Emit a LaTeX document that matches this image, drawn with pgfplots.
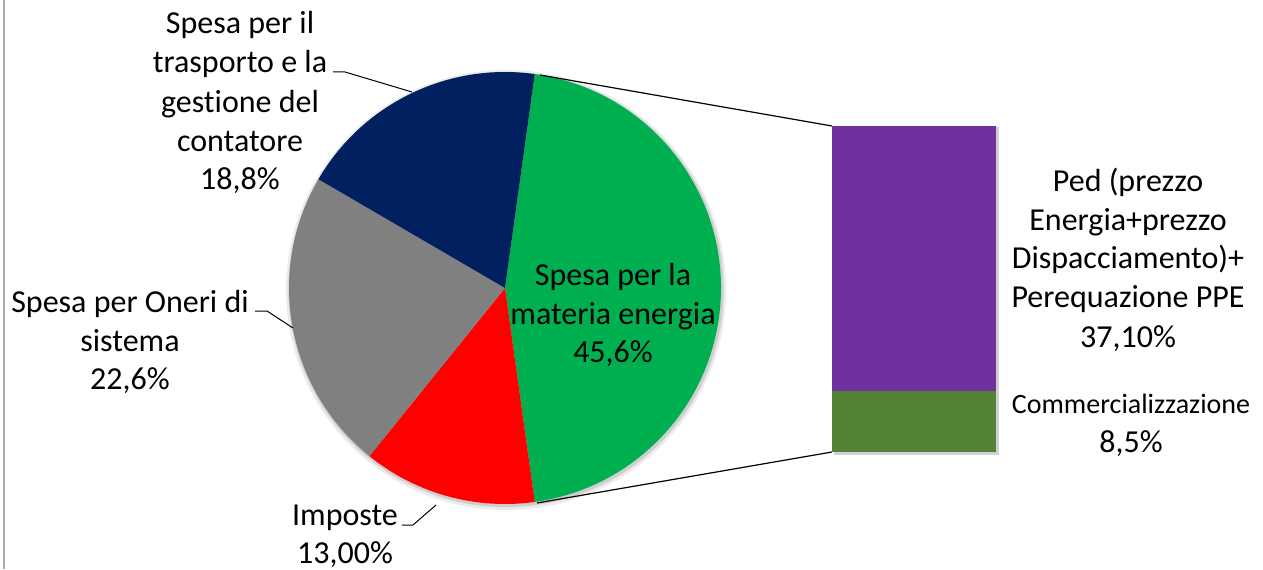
\documentclass[border=0pt]{standalone}
\usepackage{fontspec}
\setmainfont{Carlito}[Ligatures={NoCommon,NoContextual}]
\usepackage{pgfplots}
\pgfplotsset{compat=1.18}
\definecolor{pgreen}{HTML}{00B050}
\definecolor{pred}{HTML}{FF0000}
\definecolor{pgray}{HTML}{808080}
\definecolor{pnavy}{HTML}{002060}
\definecolor{bpurple}{HTML}{7030A0}
\definecolor{bgreen}{HTML}{548235}
% slice values (percent) : materia energia 45.6, imposte 13.0, oneri 22.6, trasporto 18.8
\pgfmathsetmacro\aA{45.6*1.8}
\pgfmathsetmacro\aB{\aA-45.6*3.6}
\pgfmathsetmacro\aC{\aB-13.0*3.6}
\pgfmathsetmacro\aD{\aC-22.6*3.6}
\pgfmathsetmacro\aE{\aD-18.8*3.6}
\begin{document}%
\begin{tikzpicture}[lab/.style={anchor=base, inner sep=0pt, font=\fontsize{16}{19}\selectfont}]
\begin{axis}[at={(0,0)}, anchor=south west, scale only axis, width=631.5pt, height=284.5pt,
  xmin=0, xmax=1263, ymin=0, ymax=569, hide axis, clip=false]
% frame line
\draw[black!32, line width=1pt] (axis cs:3.5,0) -- (axis cs:3.5,569);
% pie shadow
\fill[black, opacity=0.08] (axis cs:506,279) circle[radius=110pt];
\fill[black, opacity=0.12] (axis cs:506,279.5) circle[radius=108.8pt];
% slices
\fill[pgreen] (axis cs:505,281) -- ++(\aA:108pt) arc[start angle=\aA, end angle=\aB, radius=108pt] -- cycle;
\fill[pred] (axis cs:505,281) -- ++(\aB:108pt) arc[start angle=\aB, end angle=\aC, radius=108pt] -- cycle;
\fill[pgray] (axis cs:505,281) -- ++(\aC:108pt) arc[start angle=\aC, end angle=\aD, radius=108pt] -- cycle;
\fill[pnavy] (axis cs:505,281) -- ++(\aD:108pt) arc[start angle=\aD, end angle=\aE, radius=108pt] -- cycle;
% bar shadow
\fill[black, opacity=0.18] (axis cs:834,114) rectangle (axis cs:999,442);
% connector lines
\draw[black, line width=0.6pt] (axis cs:540,494) -- (axis cs:832,443);
\draw[black, line width=0.6pt] (axis cs:537,66) -- (axis cs:832,117);
% leader lines
\draw[black, line width=0.5pt] (axis cs:333,497) -- (axis cs:345,497) -- (axis cs:412,477);
\draw[black, line width=0.5pt] (axis cs:255,258) -- (axis cs:267,258) -- (axis cs:293,241);
\draw[black, line width=0.5pt] (axis cs:402,44) -- (axis cs:413,44) -- (axis cs:436,64);
% labels
\node[lab] at (axis cs:240,535) {Spesa per il};
\node[lab] at (axis cs:240,496) {trasporto e la};
\node[lab] at (axis cs:240,457) {gestione del};
\node[lab] at (axis cs:240,418) {contatore};
\node[lab] at (axis cs:240,380) {18,8\%};
\node[lab] at (axis cs:130,257) {Spesa per Oneri di};
\node[lab] at (axis cs:130,218) {sistema};
\node[lab] at (axis cs:130,180) {22,6\%};
\node[lab] at (axis cs:345,44) {Imposte};
\node[lab] at (axis cs:345,6) {13,00\%};
\node[lab] at (axis cs:613,284) {Spesa per la};
\node[lab] at (axis cs:613,245) {materia energia};
\node[lab] at (axis cs:613,207) {45,6\%};
\node[lab] at (axis cs:1128,378) {Ped (prezzo};
\node[lab] at (axis cs:1128,339) {Energia+prezzo};
\node[lab] at (axis cs:1128,301) {Dispacciamento)+};
\node[lab] at (axis cs:1128,262) {Perequazione PPE};
\node[lab] at (axis cs:1128,222) {37,10\%};
\node[lab, font=\fontsize{14}{17}\selectfont] at (axis cs:1131,156) {Commercializzazione};
\node[lab] at (axis cs:1131,117) {8,5\%};
\end{axis}
\begin{axis}[at={(416pt,58.5pt)}, anchor=south west, scale only axis, width=82pt, height=163pt,
  xmin=-0.5, xmax=0.5, ymin=0, ymax=45.6, hide axis, ybar stacked, bar width=82pt]
\addplot[fill=bgreen, draw=none] coordinates {(0,8.5)};
\addplot[fill=bpurple, draw=none] coordinates {(0,37.1)};
\end{axis}
\pgfresetboundingbox
\path (0,0) rectangle (631.5pt,284.5pt);
\end{tikzpicture}%
\end{document}
